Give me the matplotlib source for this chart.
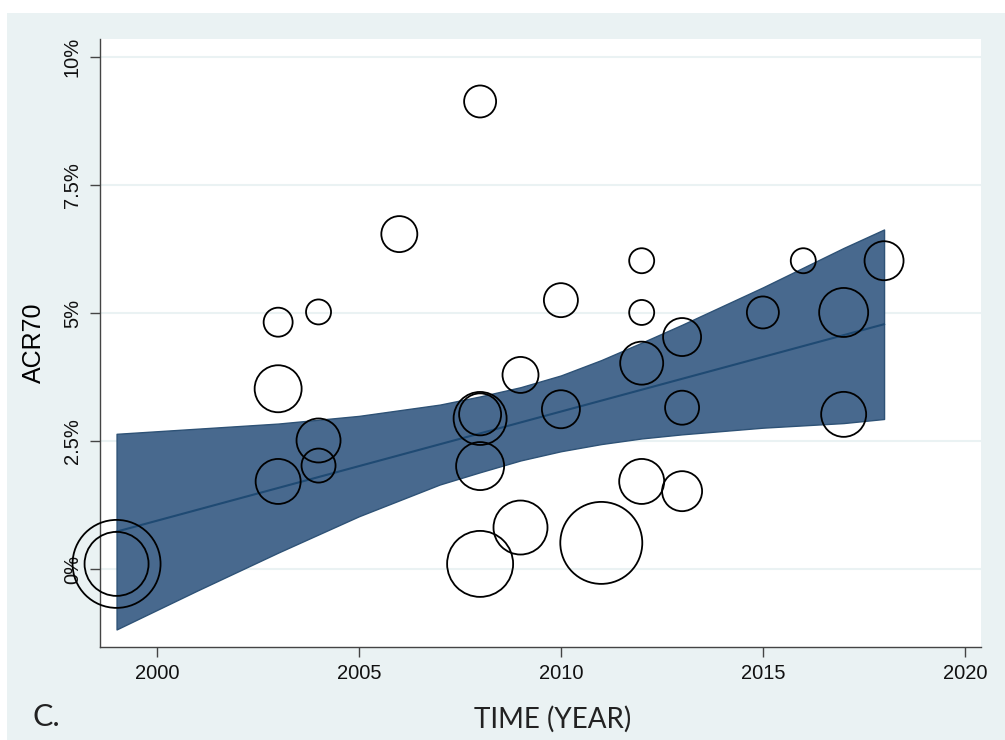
import matplotlib.pyplot as plt
from matplotlib.patches import Rectangle

# study points: year, ACR70 rate (%), bubble radius (px)
years = [1999, 1999, 2003, 2003, 2003, 2004, 2004, 2004, 2006, 2008, 2008, 2008,
         2008, 2008, 2009, 2009, 2010, 2010, 2011, 2012, 2012, 2012, 2012,
         2013, 2013, 2013, 2015, 2016, 2017, 2017, 2018]
acr70 = [0.10, 0.10, 4.82, 3.52, 1.71, 5.02, 2.51, 2.02, 6.54, 9.13, 3.02, 2.94,
         2.01, 0.10, 3.79, 0.81, 5.25, 3.12, 0.51, 6.02, 5.01, 4.02, 1.71,
         4.53, 3.15, 1.52, 5.01, 6.02, 5.01, 3.02, 6.02]
radius = [44, 32, 14.5, 23.5, 22.5, 12.5, 22, 17, 18, 16, 21, 26.5,
          24, 33, 18, 27, 17, 19, 41, 12.5, 12.5, 21.5, 22.5,
          19, 17, 20, 16, 12.5, 24.5, 22.5, 19.5]

# fitted line and confidence band
fit_years = [1999, 2018]
fit_vals = [0.73, 4.78]
band_years = [1999, 2001, 2003, 2005, 2007, 2008, 2009, 2010, 2011, 2012, 2013, 2015, 2017, 2018]
band_upper = [2.64, 2.74, 2.84, 2.99, 3.21, 3.37, 3.55, 3.78, 4.08, 4.42, 4.77, 5.50, 6.27, 6.63]
band_lower = [-1.18, -0.42, 0.32, 1.03, 1.65, 1.89, 2.12, 2.30, 2.44, 2.55, 2.63, 2.76, 2.85, 2.93]

yticks = [0, 2.5, 5, 7.5, 10]
ytick_labels = ['0%', '2.5%', '5%', '7.5%', '10%']
xticks = [2000, 2005, 2010, 2015, 2020]

bg = '#EAF2F3'
fig = plt.figure(figsize=(10.05, 7.4), dpi=100)
fig.patch.set_facecolor('white')
fig.patches.append(Rectangle((7 / 1005, 0), 998 / 1005, 727 / 740,
                             transform=fig.transFigure, facecolor=bg,
                             edgecolor='none', zorder=-10))

ax = fig.add_axes([100 / 1005, 1 - 647 / 740, 881 / 1005, 608 / 740])
ax.set_facecolor('white')

ax.fill_between(band_years, band_lower, band_upper, facecolor='#48698E',
                edgecolor='#2E5276', linewidth=1.0, zorder=2)
ax.plot(fit_years, fit_vals, color='#1F4A73', linewidth=1.5, zorder=3)

sizes = [(2 * r * 0.72) ** 2 for r in radius]
ax.scatter(years, acr70, s=sizes, facecolors='none', edgecolors='black',
           linewidths=1.3, zorder=4, clip_on=False)

for y in yticks:
    ax.axhline(y, color=bg, linewidth=1.5, zorder=1)

ax.set_xlim(1998.59, 2020.4)
ax.set_ylim(-1.523, 10.35)
ax.set_xticks(xticks)
ax.set_xticklabels([str(x) for x in xticks], family='Liberation Sans', fontsize=14.5)
ax.set_yticks(yticks)
ax.set_yticklabels(ytick_labels, rotation=90, va='center',
                   family='Liberation Sans', fontsize=14.5)
ax.tick_params(axis='both', length=7, width=1.0, color='#444444', direction='out',
               labelcolor='#111111')
ax.tick_params(axis='y', pad=6)
ax.tick_params(axis='x', pad=5)

for side in ['top', 'right']:
    ax.spines[side].set_visible(False)
for side in ['left', 'bottom']:
    ax.spines[side].set_color('#444444')
    ax.spines[side].set_linewidth(1.0)

ax.set_ylabel('ACR70', family='Liberation Sans', fontsize=18, labelpad=12)

fig.text(553 / 1005, 1 - 719 / 740, 'TIME (YEAR)', family='Lato', fontsize=20,
         ha='center', va='center', color='#222222')
fig.text(33 / 1005, 1 - 717 / 740, 'C.', family='Lato', fontsize=22,
         ha='left', va='center', color='#222222')

fig.savefig('out.png', dpi=100, facecolor=fig.get_facecolor())
